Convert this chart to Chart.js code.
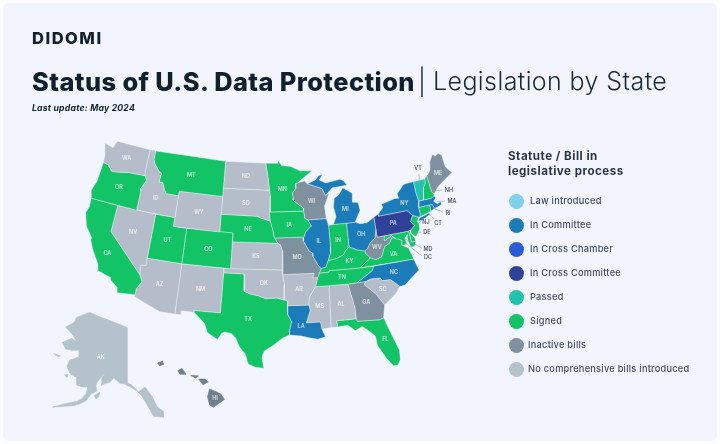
<!DOCTYPE html>
<html><head><meta charset="utf-8">
<script src="https://cdn.jsdelivr.net/npm/chart.js@4/dist/chart.umd.min.js"></script>
<style>
html,body{margin:0;padding:0;background:#fbfcff;width:720px;height:444px;overflow:hidden}
#page{position:absolute;left:3px;top:3px;width:714px;height:438px;background:#f2f5fe;border-radius:6px}
canvas{position:absolute;left:0;top:0;filter:blur(.3px)}
.t{position:absolute;white-space:nowrap;font-family:Inter,"Open Sans",sans-serif;color:#10202e}
.dot{position:absolute;width:15px;height:15px;border-radius:50%}
.li{position:absolute;white-space:nowrap;font-family:Inter,sans-serif;font-size:9.2px;letter-spacing:.27px;color:#404c5c;font-weight:500}
</style></head><body>
<div id="page"></div>
<canvas id="c" width="720" height="444"></canvas>
<div class="t" style="left:32px;top:28px;font-size:16.5px;font-weight:800;letter-spacing:1.5px;color:#14202e">DIDOMI</div>
<div class="t" style="left:32px;top:66px;font-size:25.4px;font-weight:800;letter-spacing:.42px">Status of U.S. Data Protection</div>
<div class="t" style="left:418px;top:66px;font-size:25.4px;font-weight:300;color:#1c2a38">|</div>
<div class="t" style="left:433px;top:66px;font-size:25px;font-weight:300;letter-spacing:.4px;color:#1c2a38">Legislation by State</div>
<div class="t" style="left:32px;top:102.5px;font-size:8.7px;font-weight:700;font-style:italic;letter-spacing:.2px">Last update: May 2024</div>
<div class="t" style="left:508px;top:149px;font-size:11.6px;font-weight:700;line-height:15px;letter-spacing:.5px;color:#2a3644">Statute / Bill in<br>legislative process</div>
<div id="legend"></div>
<script>
// ---- data ----
const legendLabels=["Law introduced","In Committee","In Cross Chamber","In Cross Committee","Passed","Signed","Inactive bills","No comprehensive bills introduced"];
const legendColors=["#80cfee","#1b7cb9","#2a5cd6","#2f4199","#22c3ae","#12c466","#7f909e","#b4c3cb"];
const signedStates=["OR","CA","MT","UT","CO","TX","NE","MN","IA","IN","KY","TN","FL","VA","NH","NJ","CT","DE","MD"];
const committeeStates=["NY","MA","RI","MI","IL","OH","NC","LA"];
const crossCommitteeStates=["PA"];
const passedStates=["VT"];
const inactiveStates=["ME","WI","MO","WV","GA","HI"];
const noBillStates=["WA","ID","NV","WY","ND","SD","KS","OK","AZ","NM","AR","MS","AL","SC","AK"];
// state outlines as [longitude, latitude]
const outlines={
WA:[[[-124.7,48.4],[-123.2,48.15],[-122.8,49],[-117.03,49],[-117.04,46.4],[-116.92,45.99],[-119,45.93],[-119.6,45.92],[-121.2,45.65],[-122.3,45.55],[-122.8,45.9],[-123.2,46.15],[-124,46.25],[-124.1,46.9]]],
OR:[[[-124,46.25],[-123.2,46.15],[-122.8,45.9],[-122.3,45.55],[-121.2,45.65],[-119.6,45.92],[-119,45.93],[-116.92,45.99],[-116.5,45.5],[-117.2,44.4],[-117.03,44.2],[-117.03,42],[-124.2,42],[-124.55,42.85],[-124.1,44]]],
CA:[[[-124.2,42],[-120,42],[-120,39],[-114.63,35],[-114.13,34.3],[-114.72,33.4],[-114.72,32.72],[-117.12,32.53],[-117.3,33.1],[-118.4,33.75],[-118.5,34.03],[-119.2,34.15],[-120.5,34.45],[-120.65,35.15],[-121.9,36.6],[-122.5,37.5],[-122.5,37.8],[-123.7,38.9],[-124.35,40.3],[-124.1,41]]],
NV:[[[-120,42],[-114.04,42],[-114.04,36.2],[-114.74,36.1],[-114.63,35],[-120,39]]],
ID:[[[-117.03,49],[-116.05,49],[-116.05,48],[-115.7,47.5],[-114.7,46.7],[-114.35,46.65],[-114.5,45.6],[-113.9,45.65],[-113.45,44.95],[-113,44.45],[-111.05,44.47],[-111.05,42],[-117.03,42],[-117.03,44.2],[-117.2,44.4],[-116.5,45.5],[-116.92,45.99],[-117.04,46.4]]],
MT:[[[-116.05,49],[-104.05,49],[-104.05,45],[-111.05,45],[-111.05,44.47],[-113,44.45],[-113.45,44.95],[-113.9,45.65],[-114.5,45.6],[-114.35,46.65],[-114.7,46.7],[-115.7,47.5],[-116.05,48]]],
WY:[[[-111.05,45],[-104.05,45],[-104.05,41],[-111.05,41]]],
UT:[[[-114.04,42],[-111.05,42],[-111.05,41],[-109.05,41],[-109.05,37],[-114.04,37]]],
CO:[[[-109.05,41],[-102.05,41],[-102.05,37],[-109.05,37]]],
AZ:[[[-114.04,37],[-109.05,37],[-109.05,31.33],[-111.07,31.33],[-114.81,32.5],[-114.72,32.72],[-114.72,33.4],[-114.13,34.3],[-114.63,35],[-114.74,36.1],[-114.04,36.2]]],
NM:[[[-109.05,37],[-103,37],[-103.04,32],[-106.62,32],[-106.53,31.78],[-108.21,31.78],[-108.21,31.33],[-109.05,31.33]]],
ND:[[[-104.05,49],[-97.23,49],[-96.85,47.5],[-96.56,45.94],[-104.05,45.94]]],
SD:[[[-104.05,45.94],[-96.56,45.94],[-96.45,45.3],[-96.45,43.5],[-96.6,43.5],[-96.44,42.49],[-97.9,42.8],[-98.5,43],[-104.05,43]]],
NE:[[[-104.05,43],[-98.5,43],[-97.9,42.8],[-96.44,42.49],[-96.05,41.5],[-95.85,40.7],[-95.31,40],[-102.05,40],[-102.05,41],[-104.05,41]]],
KS:[[[-102.05,40],[-95.31,40],[-94.9,39.8],[-94.61,39.1],[-94.62,37],[-102.05,37]]],
OK:[[[-103,37],[-94.62,37],[-94.62,36.5],[-94.43,35.4],[-94.48,33.64],[-95.5,33.88],[-97,33.8],[-98.1,34.13],[-99.2,34.3],[-100,34.56],[-100,36.5],[-103,36.5]]],
TX:[[[-106.62,32],[-103.04,32],[-103,36.5],[-100,36.5],[-100,34.56],[-99.2,34.3],[-98.1,34.13],[-97,33.8],[-95.5,33.88],[-94.48,33.64],[-94.04,33.55],[-94.04,32],[-93.55,31.2],[-93.85,30.2],[-93.85,29.7],[-94.7,29.4],[-95.9,28.6],[-97.1,27.9],[-97.4,27.2],[-97.15,25.96],[-98.2,26.05],[-99.1,26.4],[-99.5,27.5],[-100.3,28.3],[-100.8,29.25],[-101.4,29.77],[-102.3,29.88],[-102.7,29.7],[-103.15,28.98],[-104.5,29.65],[-105,30.65],[-106.53,31.78]]],
MN:[[[-97.23,49],[-95.15,49],[-95.15,49.38],[-94.6,48.75],[-93,48.6],[-91.5,48.07],[-89.5,48],[-92,46.7],[-92.3,46.66],[-92.3,46.1],[-92.9,45.6],[-92.75,45],[-92.8,44.75],[-91.25,43.85],[-91.22,43.5],[-96.45,43.5],[-96.45,45.3],[-96.56,45.94],[-96.85,47.5]]],
IA:[[[-96.45,43.5],[-91.22,43.5],[-91.1,42.7],[-90.64,42.5],[-90.15,41.8],[-91.05,41.2],[-91.4,40.55],[-91.73,40.6],[-95.77,40.58],[-96.05,41.5],[-96.44,42.49],[-96.6,43.5]]],
MO:[[[-95.77,40.58],[-91.73,40.6],[-91.4,40.55],[-91.5,40.2],[-90.7,39],[-90.2,38.75],[-90.2,38.4],[-89.5,37.3],[-89.13,36.98],[-89.42,36.5],[-89.7,36],[-90.37,36],[-90.15,36.5],[-94.62,36.5],[-94.61,39.1],[-94.9,39.8],[-95.31,40]]],
AR:[[[-94.62,36.5],[-90.15,36.5],[-90.37,36],[-89.7,36],[-90.1,35],[-91,33.9],[-91.17,33],[-94.04,33],[-94.04,33.55],[-94.48,33.64],[-94.43,35.4]]],
LA:[[[-94.04,33],[-91.17,33],[-91,32.4],[-91.6,31],[-89.73,31],[-89.6,30.2],[-89.2,29.3],[-90.2,29.1],[-91.3,29.3],[-92.3,29.55],[-93.85,29.7],[-93.85,30.2],[-93.55,31.2],[-94.04,32]]],
WI:[[[-92,46.7],[-90.8,46.9],[-90.4,46.55],[-88.1,45.9],[-87.6,45.1],[-87,45.3],[-87.9,43.9],[-87.8,42.5],[-90.64,42.5],[-91.1,42.7],[-91.22,43.5],[-91.25,43.85],[-92.8,44.75],[-92.75,45],[-92.9,45.6],[-92.3,46.1],[-92.3,46.66]]],
IL:[[[-90.64,42.5],[-87.8,42.5],[-87.53,41.7],[-87.53,39.35],[-87.6,38.7],[-88.05,37.8],[-88.45,37.1],[-89.13,36.98],[-89.5,37.3],[-90.2,38.4],[-90.2,38.75],[-90.7,39],[-91.5,40.2],[-91.4,40.55],[-91.05,41.2],[-90.15,41.8]]],
IN:[[[-87.53,41.7],[-86.8,41.76],[-84.8,41.73],[-84.82,39.1],[-85.4,38.7],[-85.8,38.27],[-86.8,37.95],[-88.05,37.8],[-87.6,38.7],[-87.53,39.35]]],
OH:[[[-84.8,41.73],[-83.45,41.73],[-82.7,41.5],[-81.7,41.5],[-80.52,41.98],[-80.52,40.64],[-80.85,39.7],[-81.7,39.2],[-82.2,38.6],[-82.6,38.42],[-83.7,38.65],[-84.82,39.1]]],
KY:[[[-89.42,36.5],[-88.07,36.5],[-88.05,36.68],[-83.67,36.6],[-81.97,37.54],[-82.6,38.17],[-82.6,38.42],[-83.7,38.65],[-84.82,39.1],[-85.4,38.7],[-85.8,38.27],[-86.8,37.95],[-88.05,37.8],[-88.45,37.1],[-89.13,36.98]]],
TN:[[[-90.1,35],[-89.7,36],[-89.42,36.5],[-88.07,36.5],[-88.05,36.68],[-83.67,36.6],[-81.68,36.59],[-82,36.1],[-84.32,35],[-85.6,34.98],[-88.2,35]]],
MS:[[[-90.1,35],[-88.2,35],[-88.4,30.3],[-89.6,30.2],[-89.73,31],[-91.6,31],[-91,32.4],[-91.17,33],[-91,33.9]]],
AL:[[[-88.2,35],[-85.6,34.98],[-85,32.3],[-85,31],[-87.6,31],[-87.5,30.3],[-88.4,30.3]]],
GA:[[[-85.6,34.98],[-83.1,35],[-83.35,34.7],[-81.9,33.4],[-81,32.1],[-81.4,30.7],[-82,30.55],[-82.2,30.57],[-84.86,30.7],[-85,31],[-85,32.3]]],
FL:[[[-87.6,31],[-85,31],[-84.86,30.7],[-82.2,30.57],[-82,30.55],[-81.4,30.7],[-81,29.5],[-80.05,26.8],[-80.15,25.7],[-80.5,25.2],[-81.1,25.15],[-81.8,26.1],[-82.7,27.7],[-82.8,28.8],[-83.7,29.6],[-84.3,30.05],[-85.3,29.7],[-86.2,30.4],[-87.5,30.3]]],
SC:[[[-83.1,35],[-82.3,35.2],[-81,35.15],[-80.8,34.82],[-79.67,34.8],[-78.55,33.86],[-79.2,33.2],[-80.5,32.4],[-81,32.1],[-81.9,33.4],[-83.35,34.7]]],
NC:[[[-84.32,35],[-82,36.1],[-81.68,36.59],[-75.9,36.55],[-75.5,35.25],[-76.5,34.7],[-77.8,33.9],[-78.55,33.86],[-79.67,34.8],[-80.8,34.82],[-81,35.15],[-82.3,35.2],[-83.1,35]]],
VA:[[[-83.67,36.6],[-75.9,36.55],[-76,37],[-76.3,37.9],[-77.2,38.35],[-77.05,38.85],[-77.5,39.1],[-77.8,39.15],[-78.35,39.4],[-78.9,38.8],[-79.65,38.55],[-80.3,37.5],[-81.2,37.25],[-81.97,37.54]]],
WV:[[[-82.6,38.42],[-82.6,38.17],[-81.97,37.54],[-81.2,37.25],[-80.3,37.5],[-79.65,38.55],[-78.9,38.8],[-78.35,39.4],[-77.8,39.15],[-78.4,39.6],[-79.48,39.2],[-79.48,39.72],[-80.52,39.72],[-80.52,40.64],[-80.85,39.7],[-81.7,39.2],[-82.2,38.6]]],
MD:[[[-79.48,39.72],[-75.79,39.72],[-75.69,38.46],[-75.05,38.45],[-75.4,37.9],[-75.95,37.95],[-76.2,38.9],[-76.05,39.4],[-76.5,39.1],[-76.4,38.3],[-77.2,38.35],[-77.05,38.85],[-77.5,39.1],[-77.8,39.15],[-78.4,39.6],[-79.48,39.2]]],
DE:[[[-75.79,39.72],[-75.45,39.8],[-75.55,39.45],[-75.1,38.8],[-75.05,38.45],[-75.69,38.46]]],
PA:[[[-80.52,41.98],[-80.52,39.72],[-75.79,39.72],[-75.45,39.8],[-74.75,40.2],[-75.2,40.7],[-74.7,41.36],[-75.35,42],[-79.76,42],[-79.76,42.27]]],
NJ:[[[-74.7,41.36],[-73.9,41],[-74.2,40.5],[-74,40.4],[-74.1,39.7],[-74.9,38.93],[-75.5,39.5],[-75.45,39.8],[-74.75,40.2],[-75.2,40.7]]],
NY:[[[-79.76,42.27],[-78.9,42.9],[-79.05,43.27],[-76.8,43.63],[-76.2,43.55],[-76.3,44.1],[-75,44.95],[-74.7,45],[-73.35,45],[-73.4,43.6],[-73.27,42.75],[-73.5,42.05],[-73.5,41.3],[-73.65,41],[-73.9,41],[-74.7,41.36],[-75.35,42],[-79.76,42]],[[-74.05,40.6],[-73.7,40.9],[-72.3,41.15],[-71.9,41.05],[-73.5,40.58]]],
CT:[[[-73.5,42.05],[-71.8,42.02],[-71.85,41.32],[-73.65,41],[-73.5,41.3]]],
RI:[[[-71.8,42.02],[-71.38,42.02],[-71.2,41.5],[-71.85,41.32]]],
MA:[[[-73.5,42.05],[-73.27,42.75],[-71.3,42.7],[-70.8,42.87],[-70.6,42.65],[-71.05,42.3],[-70.6,41.95],[-70,42.05],[-70,41.75],[-70.7,41.6],[-71.2,41.5],[-71.38,42.02],[-71.8,42.02]]],
VT:[[[-73.35,45],[-71.5,45],[-71.6,44.5],[-72.05,44.1],[-72.45,43],[-72.46,42.73],[-73.27,42.75],[-73.4,43.6]]],
NH:[[[-71.5,45],[-71.08,45.3],[-70.98,43.4],[-70.7,43.07],[-70.8,42.87],[-71.3,42.7],[-72.46,42.73],[-72.45,43],[-72.05,44.1],[-71.6,44.5]]],
ME:[[[-71.08,45.3],[-70.8,45.4],[-70.25,45.9],[-70,46.7],[-69.23,47.46],[-68.9,47.18],[-68.3,47.36],[-67.8,47.07],[-67.8,45.7],[-67.45,45.3],[-67,44.85],[-68.5,44.3],[-69.8,43.75],[-70.7,43.07],[-70.98,43.4]]],
MI:[[[-86.8,41.76],[-84.8,41.73],[-83.45,41.73],[-83.1,42.2],[-82.45,43],[-82.6,43.9],[-83.4,44],[-83.3,45],[-84.7,45.75],[-85.5,45],[-86.25,44.7],[-86.5,43.7],[-86.25,42.6]],[[-90.4,46.55],[-89,46.95],[-88.4,47.4],[-87.8,47.45],[-88.4,46.9],[-87.4,46.5],[-86,46.65],[-85,46.75],[-84.4,46.5],[-84,46],[-84.7,45.95],[-86.4,45.9],[-87.6,45.1],[-88.1,45.9]]],
AK:[[[-141,69.65],[-141,60.3],[-139.5,59.9],[-137.5,58.9],[-136.5,59.4],[-135.5,59.8],[-133.5,58.4],[-131.8,56.6],[-130,56],[-130,55],[-131.5,55],[-133,55],[-134.5,56.5],[-136,57.8],[-136.5,58.3],[-138,59],[-139.8,59.55],[-142,60],[-144,60],[-146.5,60.8],[-148,60],[-149.8,59.7],[-151.8,59.2],[-151.5,60.7],[-150,61.2],[-151,61.1],[-153.5,59.6],[-154,59],[-153.5,58.2],[-156,57.5],[-158,56.3],[-161,55.5],[-163.5,55.1],[-172,54.4],[-164.5,55.6],[-162,55.9],[-160,56.4],[-158,57.5],[-157.3,58.7],[-159,58.5],[-162,58.7],[-162,60],[-164.5,60.4],[-166,61.6],[-164.8,62.8],[-163,63.1],[-161,63.6],[-161,64.7],[-164,64.5],[-166.5,64.6],[-168,65.6],[-164,66.5],[-162,66.1],[-163.5,67.1],[-166.5,68.3],[-163,69.3],[-162,70.2],[-156.6,71.35],[-152,70.8],[-148,70.4],[-144,70]],[[-154.6,57.3],[-152.4,58],[-152.8,57.2],[-154,56.8]],[[-167,60.1],[-165.6,60.3],[-166,59.8]],[[-171.5,63.5],[-168.8,63.3],[-170,63.1]]],
HI:[[[-155.9,20.25],[-155.1,19.9],[-154.8,19.5],[-155.6,18.95],[-155.9,19.1],[-156.05,19.7]],[[-156.7,20.95],[-156.25,20.95],[-156,20.75],[-156.4,20.55]],[[-157.3,21.22],[-156.72,21.17],[-156.95,21.03]],[[-158.25,21.55],[-157.95,21.72],[-157.65,21.3],[-158.1,21.3]],[[-159.75,22.1],[-159.4,22.23],[-159.3,22],[-159.6,21.9]]]
};
const labelPoints={WA:[-120.5,47.4],OR:[-120.5,44],CA:[-119.7,36.5],ID:[-114.5,43.8],NV:[-116.8,39.5],MT:[-109.5,47],WY:[-107.5,43],UT:[-111.6,39.3],CO:[-105.5,39],AZ:[-111.7,34.3],NM:[-106,34.4],ND:[-100.5,47.4],SD:[-100.3,44.4],NE:[-99.8,41.5],KS:[-98.5,38.5],OK:[-97.3,35.5],TX:[-99.3,31.4],MN:[-94.5,46],IA:[-93.5,42],MO:[-92.5,38.4],AR:[-92.4,34.8],LA:[-92.3,30.6],WI:[-89.9,44.5],IL:[-89.2,40],MI:[-84.7,43.3],IN:[-86.3,40],OH:[-82.8,40.3],KY:[-85,37.5],TN:[-86.3,35.8],MS:[-89.7,32.8],AL:[-86.8,32.8],GA:[-83.4,32.7],FL:[-81.6,28.3],SC:[-80.9,33.9],NC:[-79,35.5],VA:[-78.6,37.5],WV:[-80.8,38.6],PA:[-77.8,40.9],NY:[-75.5,42.9],ME:[-69.2,45.2],AK:[-152,64],HI:[-155.5,19.6]};
const calloutNames=["VT","NH","MA","RI","CT","NJ","DE","MD","DC"];
const calloutAnchors=[[-72.6,44.4],[-71.3,43.5],[-70.6,42.2],[-71.4,41.6],[-72.4,41.4],[-74.3,40.2],[-75.3,39.2],[-76.6,39],[-77.03,38.9]];
// ---- projections into map units ----
const rad=Math.PI/180;
function albers(lon,lat){
  const n=(Math.sin(29.5*rad)+Math.sin(45.5*rad))/2,c=Math.cos(29.5*rad)**2+2*n*Math.sin(29.5*rad);
  const r0=Math.sqrt(c-2*n*Math.sin(37.5*rad))/n,r=Math.sqrt(c-2*n*Math.sin(lat*rad))/n,th=n*(lon+96)*rad;
  return {x:273+508*r*Math.sin(th),y:265.6-508*(r0-r*Math.cos(th))};
}
function project(st,lon,lat){
  if(st==="AK")return {x:127+(lon+141)*(lon>-141?3.3:2.4),y:783+.326*lon-5.88*lat};
  if(st==="HI")return {x:215+(lon+155.5)*13.5,y:398+(19.6-lat)*14};
  return albers(lon,lat);
}
const colorOf={};
const groups=[[committeeStates,1],[crossCommitteeStates,3],[passedStates,4],[signedStates,5],[inactiveStates,6],[noBillStates,7]];
groups.forEach(([g,i])=>g.forEach(s=>colorOf[s]=legendColors[i]));
colorOf.HI="#6f7f8c";colorOf.WA=colorOf.ID=colorOf.NV=colorOf.WY=colorOf.ND=colorOf.SD=colorOf.KS=colorOf.OK=colorOf.AZ=colorOf.NM=colorOf.AR=colorOf.MS=colorOf.AL=colorOf.SC="#b4bdc9";
const datasets=[];
Object.keys(outlines).forEach(st=>outlines[st].forEach(poly=>{
  const pts=poly.map(p=>project(st,p[0],p[1]));pts.push(pts[0]);
  datasets.push({label:st,data:pts,showLine:true,fill:'shape',tension:0,pointRadius:0,pointHoverRadius:0,
    backgroundColor:colorOf[st],borderColor:(st==="AK"||st==="HI")?colorOf[st]:"rgba(240,245,252,.6)",borderWidth:.7,clip:false});
}));
const calloutLabelPos=[[418,168],[449,190],[452,201],[448,213],[438,223],[426,222],[427,232],[428,249],[428,257]];
const calloutLineEnd=[[419,174],[442,190],[445,201],[443,212],[434,219],[423,219],[421,232],[422,248],[422,256]];
const labelPlugin={id:'stateText',afterDatasetsDraw(ch){
  const {ctx,scales:{x,y}}=ch;ctx.save();
  calloutNames.forEach((n,i)=>{
    const a=albers(calloutAnchors[i][0],calloutAnchors[i][1]),e=calloutLineEnd[i];
    ctx.strokeStyle="#8e9aa6";ctx.lineWidth=.6;ctx.beginPath();
    ctx.moveTo(x.getPixelForValue(a.x),y.getPixelForValue(a.y));
    ctx.lineTo(x.getPixelForValue(e[0]),y.getPixelForValue(e[1]));ctx.stroke();
  });
  ctx.textAlign="center";ctx.textBaseline="middle";
  ctx.fillStyle="rgba(255,255,255,.75)";ctx.font="600 5.5px Inter, sans-serif";
  Object.keys(labelPoints).forEach(s=>{
    const p=project(s,labelPoints[s][0],labelPoints[s][1]);
    ctx.fillText(s,x.getPixelForValue(p.x),y.getPixelForValue(p.y));
  });
  ctx.fillStyle="#3c4856";ctx.font="500 5.5px Inter, sans-serif";
  calloutNames.forEach((n,i)=>{
    const p=calloutLabelPos[i];
    ctx.fillText(n,x.getPixelForValue(p[0]),y.getPixelForValue(p[1]));
  });
  ctx.restore();
}};
new Chart(document.getElementById('c'),{type:'scatter',data:{datasets},plugins:[labelPlugin],options:{
  responsive:false,animation:false,events:[],devicePixelRatio:1,
  layout:{padding:0},
  plugins:{legend:{display:false},tooltip:{enabled:false},title:{display:false}},
  scales:{x:{type:'linear',display:false,min:0,max:720},y:{type:'linear',display:false,min:0,max:444,reverse:true}}
}});
const lg=document.getElementById('legend');
const legendTextX=[530,530,530,530,530,530,528,528];
legendLabels.forEach((t,i)=>{
  const yy=201+24*i;
  lg.insertAdjacentHTML('beforeend',`<div class="dot" style="left:508.5px;top:${yy-7.5}px;background:${legendColors[i]}"></div><div class="li" style="left:${legendTextX[i]}px;top:${yy-6}px">${t}</div>`);
});
</script>
</body></html>
